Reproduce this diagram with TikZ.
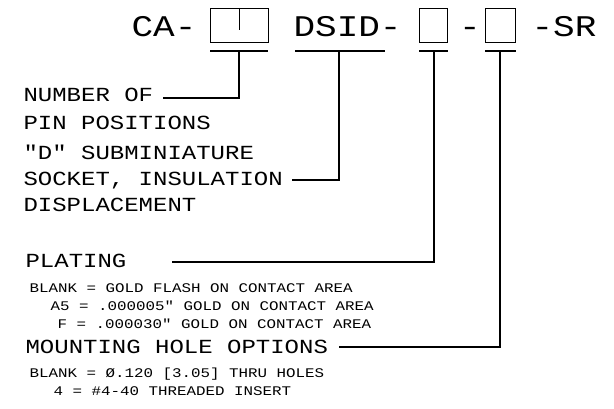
\documentclass[tikz,border=0pt]{standalone}
\usepackage{fontspec}
\setmainfont{Liberation Mono}[FakeStretch=1.2,Ligatures=TeXOff]
\begin{document}
\begin{tikzpicture}[x=1pt,y=-1pt,line width=1.1pt,
  big/.style={font=\fontsize{30}{30}\selectfont,inner sep=0pt,anchor=base west},
  head/.style={font=\fontsize{20}{20}\selectfont,inner sep=0pt,anchor=base west},
  det/.style={font=\fontsize{13.2}{14}\selectfont,inner sep=0pt,anchor=base west},
  slot/.style={draw,inner sep=0pt,anchor=north west,minimum height=34pt}]
\useasboundingbox (0,0) rectangle (614,409);
% part number
\node[big] (ca) at (131,37) {CA-};
\node[slot,minimum width=58pt] (b1) at (210,8) {};
\draw (b1.north) -- ++(0,22);
\node[big] (dsid) at (293,37) {DSID-};
\node[slot,minimum width=28pt] (b2) at (419,8) {};
\node[big,anchor=base] (dash) at (470,37) {-};
\node[slot,minimum width=30pt] (b3) at (485,8) {};
\node[big] (sr) at (531,37) {-SR};
% underlines and leaders
\coordinate (u1a) at (210,51); \coordinate (u1b) at (268,51); \coordinate (u1m) at (239,51);
\coordinate (u2a) at (295,51); \coordinate (u2b) at (385,51); \coordinate (u2m) at (339,51);
\coordinate (u3a) at (419,51); \coordinate (u3b) at (448,51); \coordinate (u3m) at (434,51);
\coordinate (u4a) at (485,51); \coordinate (u4b) at (516,51); \coordinate (u4m) at (500,51);
\coordinate (e1) at (163,98);
\coordinate (e2) at (292,180);
\coordinate (e3) at (172,262);
\coordinate (e4) at (339,347);
\draw (u1a) -- (u1b); \draw (u1m) |- (e1);
\draw (u2a) -- (u2b); \draw (u2m) |- (e2);
\draw (u3a) -- (u3b); \draw (u3m) |- (e3);
\draw (u4a) -- (u4b); \draw (u4m) |- (e4);
% descriptions
\node[head] (t1) at (23,102) {NUMBER OF};
\node[head] (t2) at (23,130) {PIN POSITIONS};
\node[head] (t3) at (23,160) {"D" SUBMINIATURE};
\node[head] (t4) at (23,186) {SOCKET, INSULATION};
\node[head] (t5) at (23,212) {DISPLACEMENT};
\node[head] (t6) at (25,268) {PLATING};
\node[det] (p1) at (29,293) {BLANK = GOLD FLASH ON CONTACT AREA};
\node[det] (p2) at (50,310) {A5 = .000005" GOLD ON CONTACT AREA};
\node[det] (p3) at (57,328) {F = .000030" GOLD ON CONTACT AREA};
\node[head] (t7) at (25,353) {MOUNTING HOLE OPTIONS};
\node[det] (m1) at (29,377) {BLANK = Ø.120 [3.05] THRU HOLES};
\node[det] (m2) at (53,395) {4 = \#4-40 THREADED INSERT};
\end{tikzpicture}
\end{document}
